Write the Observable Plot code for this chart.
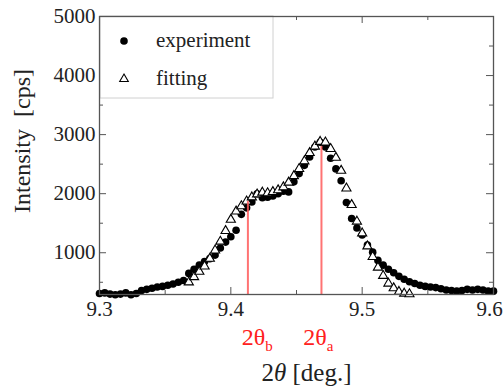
<!DOCTYPE html>
<html>
<head>
<meta charset="utf-8">
<script src="https://cdn.jsdelivr.net/npm/d3@7"></script>
<script src="https://cdn.jsdelivr.net/npm/@observablehq/plot@0.6"></script>
<style>
  html, body { margin: 0; padding: 0; background: #fff; }
  svg text { white-space: pre; font-family: "Liberation Serif", "Times New Roman", serif !important; font-variant: normal !important; font-variant-numeric: normal !important; }
</style>
</head>
<body>
<div id="chart"></div>
<script>
// ---- data ----
const expX = [9.300,9.304,9.308,9.312,9.316,9.320,9.324,9.328,9.332,9.336,9.340,9.344,9.348,9.352,9.356,9.360,9.364,9.368,9.372,9.376,
  9.380,9.384,9.388,9.392,9.396,9.400,9.404,9.408,9.412,9.416,9.420,9.424,9.428,9.432,9.436,9.440,9.444,9.448,9.452,9.456,
  9.460,9.464,9.468,9.472,9.476,9.480,9.484,9.488,9.492,9.496,9.500,9.504,9.508,9.512,9.516,9.520,9.524,9.528,9.532,9.536,
  9.540,9.544,9.548,9.552,9.556,9.560,9.564,9.568,9.572,9.576,9.580,9.584,9.588,9.592,9.596,9.600];
const expY = [310,320,300,290,300,320,290,310,360,380,400,420,430,450,470,500,530,650,720,790,
  850,900,960,1080,1180,1270,1380,1650,1760,1860,2000,1930,1940,1960,2000,2040,2030,2200,2340,2480,
  2620,2790,2870,2790,2600,2420,2220,1850,1580,1420,1300,1130,1010,870,790,720,660,600,550,510,
  480,450,430,420,410,390,370,360,350,360,380,370,380,370,350,350];

const fitX = [9.368,9.372,9.376,9.380,9.384,9.388,9.392,9.396,9.400,9.404,9.408,9.412,9.416,9.420,9.424,9.428,9.432,9.436,9.440,9.444,
  9.448,9.452,9.456,9.460,9.464,9.468,9.472,9.476,9.480,9.484,9.488,9.492,9.496,9.500,9.504,9.508,9.512,9.516,9.520,9.524,
  9.528,9.532,9.536];
const fitY = [500,590,680,770,900,1040,1190,1370,1560,1700,1790,1870,1940,1990,2020,2010,2030,2060,2110,2190,
  2300,2420,2550,2690,2800,2880,2870,2760,2610,2390,2090,1810,1530,1330,1110,930,750,610,480,400,
  340,310,300];

const peakX = [9.413, 9.469];
const peakY = [1870, 2800];
const peakLabel = ["2θb", "2θa"];
const peakLabelX = [9.4202, 9.4666];

const xTicks = [9.3, 9.4, 9.5, 9.6];
const xMinor = [9.35, 9.45, 9.55];
const yTicks = [1000, 2000, 3000, 4000, 5000];
const yMinor = [500, 1500, 2500, 3500, 4500];
const xDomain = [9.3, 9.6];
const yDomain = [293, 5000];

const legendNames = ["experiment", "fitting"];
const yTitle = "Intensity  [cps]";

// ---- build ----
const W = 504, H = 390;
const mL = 99, mR = 11, mT = 16, mB = 96;
const iw = W - mL - mR, ih = H - mT - mB;
const FONT = "Liberation Serif, Times New Roman, serif";
const INK = "#222";
const AX = "#555";

const exp = expX.map((x, i) => ({x, y: expY[i]}));
const fit = fitX.map((x, i) => ({x, y: fitY[i]}));
const peaks = peakX.map((x, i) => ({x, y: peakY[i], label: peakLabel[i], lx: peakLabelX[i]}));

const svg = Plot.plot({
  width: W, height: H,
  marginLeft: mL, marginRight: mR, marginTop: mT, marginBottom: mB,
  style: {fontFamily: FONT, color: INK, background: "#fff"},
  x: {domain: xDomain},
  y: {domain: yDomain},
  marks: [
    Plot.axisX(xTicks, {tickSize: 0, tickPadding: 7, fontSize: 21, fontFamily: FONT, fontVariant: "normal", label: null, tickFormat: d3.format(".1f"), fill: INK}),
    Plot.axisY(yTicks, {tickSize: 0, tickPadding: 4, fontSize: 21, fontFamily: FONT, fontVariant: "normal", label: null, tickFormat: d => String(d), fill: INK}),
    // inward ticks (bottom/top/left/right)
    Plot.tickX(xTicks, {x: d => d, insetTop: ih - 7, stroke: AX}),
    Plot.tickX(xTicks, {x: d => d, insetBottom: ih - 7, stroke: AX}),
    Plot.tickX(xMinor, {x: d => d, insetTop: ih - 4, stroke: AX}),
    Plot.tickX(xMinor, {x: d => d, insetBottom: ih - 4, stroke: AX}),
    Plot.tickY(yTicks, {y: d => d, insetRight: iw - 7, stroke: AX}),
    Plot.tickY(yTicks, {y: d => d, insetLeft: iw - 7, stroke: AX}),
    Plot.tickY(yMinor, {y: d => d, insetRight: iw - 4, stroke: AX}),
    Plot.tickY(yMinor, {y: d => d, insetLeft: iw - 4, stroke: AX}),
    Plot.dot(exp, {x: "x", y: "y", r: 3.8, fill: "#000", stroke: "none"}),
    Plot.dot(fit, {x: "x", y: "y", r: 3.4, symbol: "triangle", fill: "#fff", stroke: "#000", strokeWidth: 1.1}),
    Plot.ruleX(peaks, {x: "x", y1: yDomain[0], y2: "y", stroke: "#ff5a5a", strokeWidth: 2, strokeOpacity: 0.85}),
    Plot.text(peaks, {x: "lx", text: "label", frameAnchor: "bottom", dy: 43, fontSize: 24, fontFamily: FONT, fill: "#ff2020", lineAnchor: "middle"}),
    Plot.text(["2θ [deg.]"], {frameAnchor: "bottom", dx: 10, dy: 78, fontSize: 25, fontFamily: FONT, fill: INK, lineAnchor: "middle"}),
    Plot.frame({stroke: AX, strokeWidth: 1.3})
  ]
});

const s = d3.select(svg);
// subscripts, italic theta, keep last x label inside the picture
s.selectAll("text").each(function() {
  const t = this.textContent;
  if (t === "2θb" || t === "2θa") {
    this.textContent = "2θ";
    d3.select(this).append("tspan").attr("font-size", 15).attr("dy", 6).text(t.slice(2));
  } else if (t === "2θ [deg.]") {
    this.textContent = "2";
    const sel = d3.select(this);
    sel.append("tspan").attr("font-style", "italic").text("θ");
    sel.append("tspan").text(" [deg.]");
  } else if (t === "9.6") {
    this.setAttribute("dx", -4);
  }
});

// y-axis title
s.append("text").attr("transform", "translate(30,141) rotate(-90)")
  .attr("text-anchor", "middle").attr("font-size", 24).attr("fill", INK).text(yTitle);

// legend (inside the frame, top-left)
const lg = s.append("g").attr("text-anchor", "start");
lg.append("rect").attr("x", mL + 1).attr("y", mT).attr("width", 173).attr("height", 82)
  .attr("fill", "#fff").attr("stroke", "#d0d0d0").attr("stroke-width", 1);
lg.append("circle").attr("cx", 124).attr("cy", 41).attr("r", 3.8).attr("fill", "#000");
lg.append("path").attr("d", d3.symbol(d3.symbolTriangle, Math.PI * 3.2 * 3.2)()).attr("transform", "translate(124,79)")
  .attr("fill", "#fff").attr("stroke", "#000").attr("stroke-width", 1.1);
lg.append("text").attr("x", 156).attr("y", 47).attr("font-size", 21).attr("fill", INK).text(legendNames[0]);
lg.append("text").attr("x", 156).attr("y", 85).attr("font-size", 21).attr("fill", INK).text(legendNames[1]);
// keep frame on top of legend
s.node().appendChild(s.select("[aria-label=frame]").node());

document.getElementById("chart").appendChild(svg);
</script>
</body>
</html>
